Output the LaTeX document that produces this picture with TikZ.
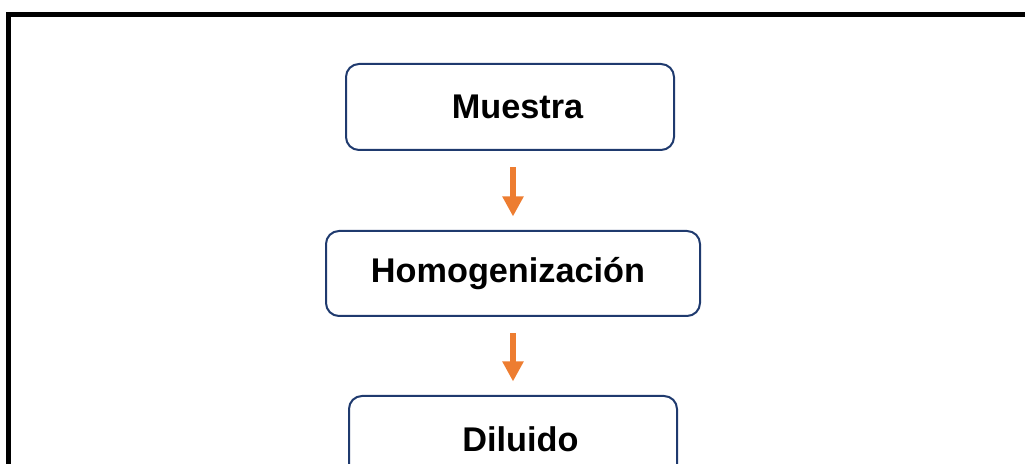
\documentclass[tikz,border=0pt]{standalone}
\usepackage{fontspec}
\setmainfont{Liberation Sans}
\usepackage{tikz}
\usetikzlibrary{arrows.meta}

\definecolor{borde}{HTML}{1F3A6E}
\definecolor{naranja}{HTML}{ED7D31}

\tikzset{
  etapa/.style={draw=borde, line width=0.04cm, rounded corners=0.26cm, minimum height=1.72cm,
    font=\fontsize{19.5}{23}\selectfont\bfseries},
  flecha/.style={naranja, line width=0.134cm, -{Triangle[width=0.4cm,length=0.4cm]},
    shorten <=0.33cm, shorten >=0.27cm}
}

\begin{document}
\begin{tikzpicture}
    \useasboundingbox (0,0) rectangle (20.5,9.28);

    % Draw frame
    \draw[line width=0.106cm, line join=miter] (0.167,-0.2) -- (0.167,8.995) -- (20.6,8.995);

    % Steps
    \node[etapa, minimum width=6.56cm] (muestra) at (10.2,7.14) {\hspace*{0.3cm}Muestra};
    \node[etapa, minimum width=7.48cm, minimum height=1.7cm] (homog) at (10.26,3.81) {Homogenización\hspace*{0.2cm}};
    \node[etapa, minimum width=6.56cm] (diluido) at (10.26,0.5) {\hspace*{0.3cm}Diluido};

    % Arrows between steps
    \draw[flecha] (homog.north |- muestra.south) -- (homog.north);
    \draw[flecha] (homog.south) -- (diluido.north);

  \end{tikzpicture}
\end{document}
